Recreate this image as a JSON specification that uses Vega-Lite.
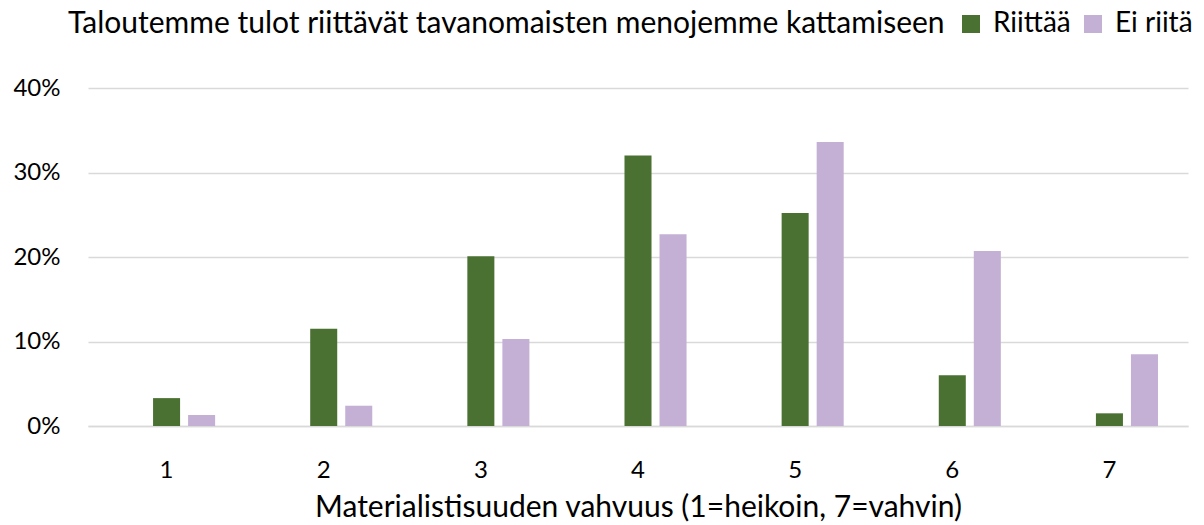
{
  "$schema": "https://vega.github.io/schema/vega-lite/v6.json",
  "width": 1100,
  "height": 338,
  "autosize": {"type": "none"},
  "padding": {"left": 88, "top": 88, "right": 16, "bottom": 99},
  "background": "white",
  "config": {"font": "Lato", "view": {"stroke": null}},
  "data": {
    "values": [
      {"Materialistisuus": "1", "Vastaus": "Riittää", "Osuus": 0.033},
      {"Materialistisuus": "1", "Vastaus": "Ei riitä", "Osuus": 0.013},
      {"Materialistisuus": "2", "Vastaus": "Riittää", "Osuus": 0.115},
      {"Materialistisuus": "2", "Vastaus": "Ei riitä", "Osuus": 0.024},
      {"Materialistisuus": "3", "Vastaus": "Riittää", "Osuus": 0.201},
      {"Materialistisuus": "3", "Vastaus": "Ei riitä", "Osuus": 0.103},
      {"Materialistisuus": "4", "Vastaus": "Riittää", "Osuus": 0.320},
      {"Materialistisuus": "4", "Vastaus": "Ei riitä", "Osuus": 0.227},
      {"Materialistisuus": "5", "Vastaus": "Riittää", "Osuus": 0.252},
      {"Materialistisuus": "5", "Vastaus": "Ei riitä", "Osuus": 0.336},
      {"Materialistisuus": "6", "Vastaus": "Riittää", "Osuus": 0.060},
      {"Materialistisuus": "6", "Vastaus": "Ei riitä", "Osuus": 0.207},
      {"Materialistisuus": "7", "Vastaus": "Riittää", "Osuus": 0.015},
      {"Materialistisuus": "7", "Vastaus": "Ei riitä", "Osuus": 0.085}
    ]
  },
  "mark": {"type": "bar"},
  "encoding": {
    "x": {
      "field": "Materialistisuus",
      "type": "ordinal",
      "scale": {"paddingInner": 0, "paddingOuter": 0},
      "title": "Materialistisuuden vahvuus (1=heikoin, 7=vahvin)",
      "axis": {
        "labelAngle": 0,
        "domain": true,
        "domainColor": "#D9D9D9",
        "domainWidth": 1.5,
        "ticks": false,
        "tickSize": 0,
        "labelFontSize": 24,
        "labelColor": "#000000",
        "labelPadding": 32,
        "titleFontSize": 30,
        "titleFontWeight": "normal",
        "titleColor": "#000000",
        "titlePadding": 10
      }
    },
    "xOffset": {
      "field": "Vastaus",
      "type": "nominal",
      "scale": {"domain": ["_", "Riittää", "Ei riitä"], "paddingInner": 0.2286, "paddingOuter": 0.857}
    },
    "y": {
      "field": "Osuus",
      "type": "quantitative",
      "scale": {"domain": [0, 0.4]},
      "title": null,
      "axis": {
        "format": ".0%",
        "values": [0, 0.1, 0.2, 0.3, 0.4],
        "domain": false,
        "ticks": false,
        "tickSize": 0,
        "labelPadding": 28,
        "labelFontSize": 24,
        "labelColor": "#000000",
        "gridColor": "#D9D9D9",
        "gridWidth": 1.5
      }
    },
    "color": {
      "field": "Vastaus",
      "type": "nominal",
      "scale": {"domain": ["Riittää", "Ei riitä"], "range": ["#4A7131", "#C4AFD5"]},
      "legend": {
        "orient": "none",
        "legendX": -20,
        "legendY": -78,
        "direction": "horizontal",
        "title": "Taloutemme tulot riittävät tavanomaisten menojemme kattamiseen",
        "titleOrient": "left",
        "titleFontSize": 30,
        "titleFontWeight": "normal",
        "titleColor": "#000000",
        "titlePadding": 12,
        "titleLimit": 2000,
        "labelFontSize": 28,
        "labelColor": "#000000",
        "labelLimit": 500,
        "labelOffset": 8,
        "columnPadding": 8,
        "symbolType": "square",
        "symbolSize": 324,
        "symbolStrokeWidth": 0,
        "symbolOpacity": 1
      }
    }
  }
}
